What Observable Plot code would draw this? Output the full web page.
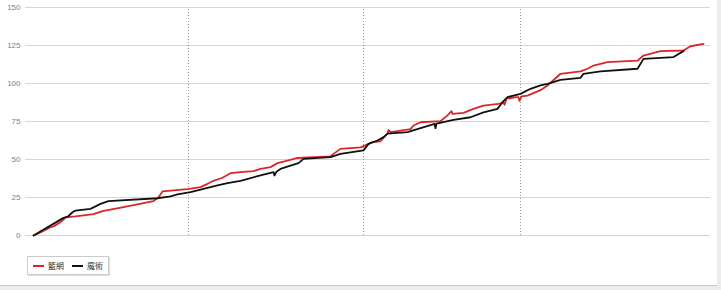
<!DOCTYPE html>
<html>
<head>
<meta charset="utf-8">
<script src="https://cdn.jsdelivr.net/npm/d3@7"></script>
<script src="https://cdn.jsdelivr.net/npm/@observablehq/plot@0.6"></script>
<style>
  html, body { margin: 0; padding: 0; background: #ececec; }
  #wrap { width: 717px; height: 285px; background: #fff; border-bottom: 1px solid #cfc7a6; position: relative; }
  #chart svg { display: block; }
  #legend { position: absolute; left: 27px; top: 256px; height: 17px; padding-right: 5px; border: 1px solid #cccccc;
    box-shadow: 1px 1px 1px #e0e0e0; font-family: "Noto Sans CJK TC", sans-serif; font-size: 8px; color: #333;
    display: flex; align-items: center; white-space: nowrap; }
  .sw { display: inline-block; flex: 0 0 11px; width: 11px; height: 2px; margin-left: 5px; margin-right: 4px; }
  .lt { flex: 0 0 auto; white-space: nowrap; }
</style>
</head>
<body>
<div id="wrap">
  <div id="chart"></div>
  <div id="legend"></div>
</div>
<script>
// Series names
const seriesNames = ["籃網", "魔術"];
const seriesColors = ["#d9262b", "#111111"];

// Play index (x) and cumulative score (y) for 籃網
const netsX = [0,1.75,4.25,5,6.75,7.5,8,10.5,15,17.25,22.5,27.5,30,31.25,32.25,38.5,41.75,43.5,45,47.25,49.25,51.75,55,56.75,59.25,61,63.5,66,74.25,75,76.75,81.75,83.5,84.75,86.75,88.5,88.75,89.25,94.25,95,96.75,101.75,103.5,104.5,104.75,107.5,110,112.5,116.25,117.5,117.75,118.25,120.75,121.25,121.5,122,123.5,126.75,128.5,131.75,136.75,138.5,140,143.5,151,152.5,156.75,162.5,164.25,167.5];
const netsY = [0,2,5.5,6,8.8,10.5,12,12.6,14,16,18.6,21.3,22.6,25.2,29,30.5,31.8,34,36,38,41,41.7,42.3,43.8,45,47.6,49.3,51,52,53.7,57,58,60,61.4,62,67,69.5,68,70,72.4,74.5,75.2,79,81.8,80,80.7,83.3,85.5,86.6,87.5,86,90,91,91,88.5,91.5,92,95.6,98.7,106.4,108,109.7,111.8,114,115,118.4,121.3,121.7,124.5,126];

// Play index (x) and cumulative score (y) for 魔術
const magicX = [0,7.5,8.5,9.75,10.5,14.25,16.75,18.75,31,34.25,36,39.25,42.5,46,48.5,51.75,56.75,60,60.25,60.75,61.75,64.25,66.25,67.5,74.25,76.75,82.5,83.75,86,87.5,88.5,93.5,100.25,100.5,100.75,105,109.25,112.5,116,117.25,118.5,121.75,124.25,126.75,128.5,131.75,136.75,137.5,141.75,151,152.5,160,162.5];
const magicY = [0,11.6,12.2,15.3,16.4,17.5,20.8,22.6,24.5,25.7,27,28.5,30.7,32.9,34.4,36,39.5,41.7,39.5,42,43.8,46,47.6,50.4,51.5,53.7,56,60.3,62.5,64.7,67,68,73.5,70.6,73.6,76,77.8,81,83.3,87.7,91,93.2,96.5,98.7,99.8,102.4,103.7,106.4,108,109.7,116.2,117.4,121.3];

// Quarter boundaries (play index)
const quarterBreaks = [38.75, 82.5, 121.75];
// Y tick labels
const yTicks = [0, 25, 50, 75, 100, 125, 150];

const rows = [
  ...netsX.map((x, i) => ({x, y: netsY[i], team: seriesNames[0]})),
  ...magicX.map((x, i) => ({x, y: magicY[i], team: seriesNames[1]}))
];

const chart = Plot.plot({
  width: 717,
  height: 250,
  marginLeft: 25,
  marginRight: 7,
  marginTop: 7,
  marginBottom: 15,
  style: {fontFamily: "Liberation Sans, Arial, sans-serif", fontSize: "8px", color: "#777", background: "transparent"},
  x: {domain: [-2, 169.25], axis: null},
  y: {domain: [0, 150], axis: null},
  color: {domain: seriesNames, range: seriesColors},
  marks: [
    Plot.ruleY(yTicks, {stroke: d => d === 0 ? "#cdd4e2" : "#d6d6d6", strokeWidth: 1}),
    Plot.ruleX(quarterBreaks, {y1: 0, y2: 149, stroke: "#9a9a9a", strokeDasharray: "1,2", strokeWidth: 1}),
    Plot.axisY(yTicks, {tickSize: 0, tickPadding: 5, label: null, fill: "#808080"}),
    Plot.line(rows, {x: "x", y: "y", z: "team", stroke: "team", strokeWidth: 1.8, curve: "linear"})
  ]
});
document.getElementById("chart").appendChild(chart);

const legend = document.getElementById("legend");
seriesNames.forEach((n, i) => {
  const sw = document.createElement("span");
  sw.className = "sw";
  sw.style.background = seriesColors[i];
  if (i > 0) sw.style.marginLeft = "8px";
  legend.appendChild(sw);
  const t = document.createElement("span");
  t.className = "lt";
  t.textContent = n;
  legend.appendChild(t);
});
</script>
</body>
</html>
